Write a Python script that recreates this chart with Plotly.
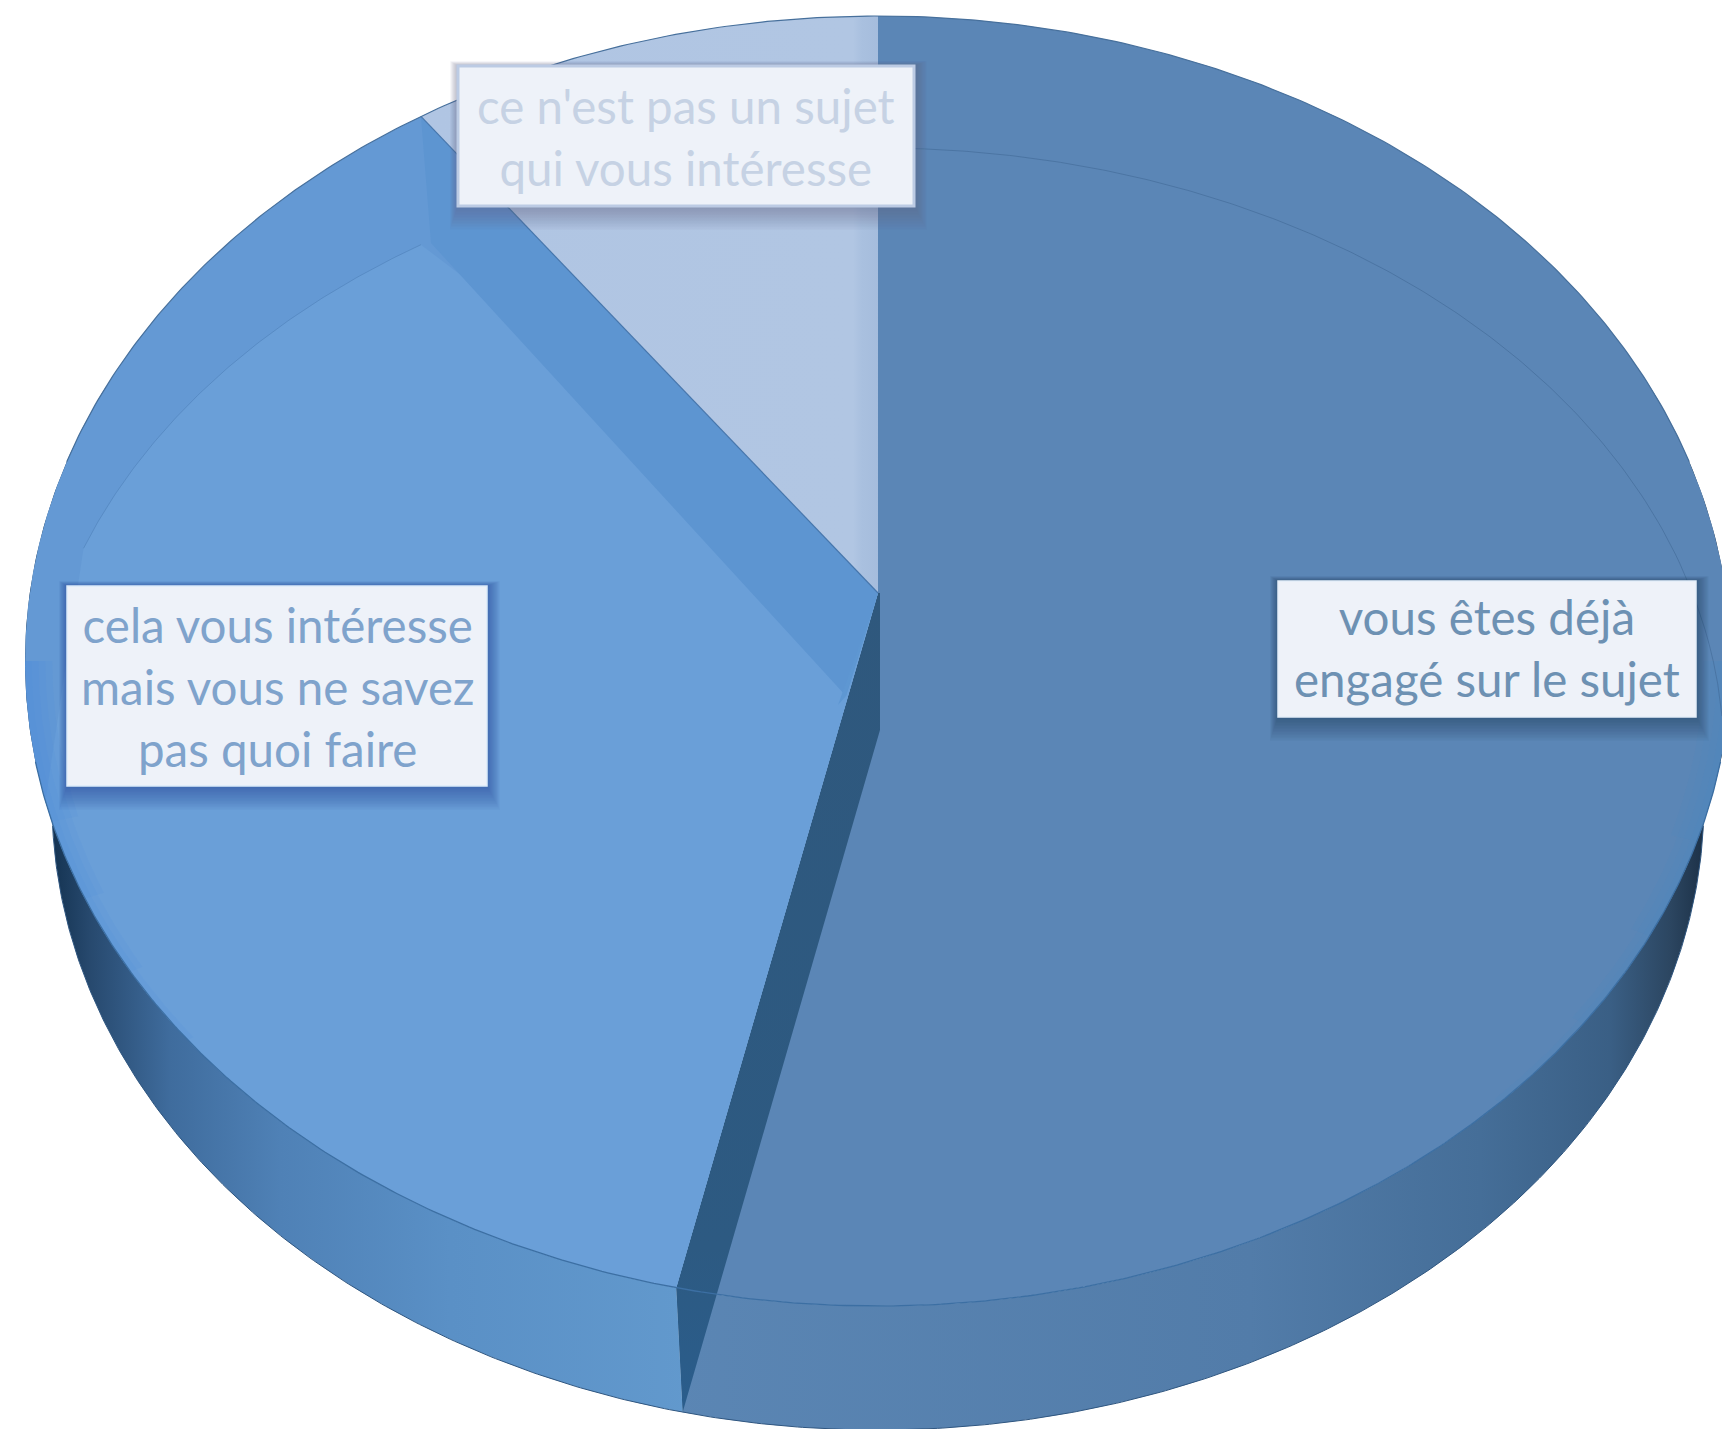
import numpy as np
import plotly.graph_objects as go

categories = ["vous êtes déjà engagé sur le sujet",
              "cela vous intéresse mais vous ne savez pas quoi faire",
              "ce n'est pas un sujet qui vous intéresse"]
values = [53.8, 37.2, 9.0]
label_text = ["vous êtes déjà<br>engagé sur le sujet",
              "cela vous intéresse<br>mais vous ne savez<br>pas quoi faire",
              "ce n'est pas un sujet<br>qui vous intéresse"]
face_colors = ["#5b86b6", "#6a9fd8", "#b0c5e3"]
label_colors = ["#6d91b3", "#7fa3cc", "#c6d2e4"]

# projection of the tilted disc on the page
CX, CY, A, B = 878.0, 661.0, 853.0, 645.0          # top rim
BCY, BA, BB = 802.0, 826.0, 628.0                  # bottom rim
AX, AY = 878.0, 593.0                              # apex on the top face
AY_LOW = 730.0                                     # apex at wall foot
ICY, IA, IB = 758.0, 846.0, 610.0                  # bevel arc

frac = np.cumsum([0] + values) / sum(values)
ang = frac * 2 * np.pi


def rim(t, k=1.0):
    return CX + k * A * np.sin(t), CY - k * B * np.cos(t)


def foot(t):
    return CX + BA * np.sin(t), BCY - BB * np.cos(t)


def inner_y(x):
    u = np.clip((x - CX) / IA, -1, 1)
    return ICY - IB * np.sqrt(1 - u ** 2)


fig = go.Figure()


def poly(x, y, color=None, **kw):
    fig.add_trace(go.Scatter(x=list(x), y=list(y), mode="lines", fill="toself",
                             line=dict(width=0), fillcolor=color,
                             hoverinfo="skip", showlegend=False, **kw))


def line(x, y, color, width=1.2):
    fig.add_trace(go.Scatter(x=list(x), y=list(y), mode="lines",
                             line=dict(color=color, width=width),
                             hoverinfo="skip", showlegend=False))


def grad(start, stop, stops):
    return dict(type="horizontal", start=start, stop=stop,
                colorscale=[[(x - start) / (stop - start), c] for x, c in stops])


def ring(t0, t1, k, color):
    t = np.linspace(t0, t1, 120)
    ox, oy = rim(t)
    ix_, iy_ = rim(t, k)
    poly(np.r_[ox, ix_[::-1]], np.r_[oy, iy_[::-1]], color)


# walls
t = np.linspace(np.pi * 0.35, ang[1], 200)
rx, ry = rim(t)
fx, fy = foot(t)
poly(np.r_[rx, fx[::-1]], np.r_[ry, fy[::-1]],
     fillgradient=grad(660, 1722, [(660, "#5b86b4"), (1250, "#527ca9"), (1480, "#456e98"),
                                   (1610, "#3a5f85"), (1670, "#2c4661"), (1722, "#14263a")]))
t = np.linspace(ang[1], 2 * np.pi * 0.82, 200)
rx, ry = rim(t)
fx, fy = foot(t)
poly(np.r_[rx, fx[::-1]], np.r_[ry, fy[::-1]],
     fillgradient=grad(30, 690, [(30, "#0a2742"), (90, "#27496e"), (170, "#3f6c9d"),
                                 (280, "#4f81b6"), (450, "#5a90c6"), (690, "#6299cd")]))

# slice 1 top face
t = np.linspace(ang[0], ang[1], 300)
rx, ry = rim(t)
poly(np.r_[AX, rx], np.r_[AY, ry], face_colors[0])
for end, k in zip((0.74, 0.69, 0.64, 0.59), (0.992, 0.984, 0.976, 0.968)):
    ring(np.pi * 0.5, np.pi * end, k, "rgba(70,135,205,0.08)")

# dark cut wall
rx1, ry1 = rim(ang[1])
fx1, fy1 = foot(ang[1])
poly([AX, rx1, fx1, AX + 2, AX + 2], [AY, ry1, fy1, AY_LOW, AY],
     fillgradient=dict(type="vertical", start=AY, stop=fy1,
                       colorscale=[[0, "#2f587d"], [0.8, "#2d5a82"], [1, "#2a5d8c"]]))

# slice 2 top face: rim band, then the flat face inside the bevel arc
t = np.linspace(ang[1], ang[2], 400)
rx, ry = rim(t)
poly(np.r_[AX, rx], np.r_[AY, ry], "#6499d4")
low = (t < np.pi * 1.431)
up = (t > np.pi * 1.5) & (rx >= 82)
fxs = np.r_[AX, rx[low], rx[up]]
fys = np.r_[AY, ry[low], inner_y(rx[up])]
poly(fxs, fys, face_colors[1])
for start, k in zip((1.30, 1.34, 1.38, 1.42), (0.992, 0.984, 0.976, 0.968)):
    ring(np.pi * start, np.pi * 1.5, k, "rgba(70,140,225,0.12)")
rx3, ry3 = rim(ang[2])
poly([AX, rx3, 431, 846], [AY, ry3, 243, 696], "#5d95d1")
poly([AX, 846, 838, AX], [AY, 696, 705, AY], "#5e97d2")
mask = up & (rx < 431)
line(rx[mask], inner_y(rx[mask]), "rgba(70,120,175,0.45)", 1)

# slice 3 top face
t = np.linspace(ang[2], ang[3], 120)
rx, ry = rim(t)
poly(np.r_[AX, rx], np.r_[AY, ry],
     fillgradient=grad(420, 880, [(420, "#b0c5e3"), (853, "#b1c6e3"), (862, "#a9c0df"), (880, "#a5bcdc")]))

# seam and bevel lines
line([AX, rx3], [AY, ry3], "#4676ac", 1.2)
ix = np.linspace(AX, 1722, 200)
line(ix, inner_y(ix), "rgba(65,105,150,0.6)", 1)
t = np.linspace(np.pi * 0.55, np.pi * 1.45, 400)
rx, ry = rim(t)
line(rx, ry, "#3c6fa3", 1.3)
t = np.linspace(np.pi * 1.6, np.pi * 2.4, 300)
rx, ry = rim(t)
line(rx, ry, "#47709c", 1.2)
t = np.linspace(np.pi * 0.4, np.pi * 1.6, 600)
fx, fy = foot(t)
outside = ((fx - CX) / A) ** 2 + ((fy - CY) / B) ** 2 >= 1
fx = np.where(outside, fx, np.nan)
fy = np.where(outside, fy, np.nan)
line(fx, fy, "#2f5680", 1)

# label boxes (x0, y0, x1, y1)
boxes = [(1278, 581, 1696, 717), (67, 586, 487, 786), (458, 66, 914, 206)]
text_dy = [-2, 0, 0]
shadow = ["rgba(30,55,90,0.035)", "rgba(25,70,130,0.035)", "rgba(80,100,140,0.03)"]
border = ["#e3eef9", "#dcebfa", "#bccbe4"]
shapes = []
annotations = []
for (x0, y0, x1, y1), dy, sc, bc, txt, col in zip(boxes, text_dy, shadow, border, label_text, label_colors):
    for i in range(1, 17):
        shapes.append(dict(type="rect", layer="above", x0=x0 - i * 0.5, x1=x1 + i * 0.8,
                           y0=y0 - i * 0.3, y1=y1 + i * 1.5,
                           line=dict(width=0), fillcolor=sc))
    shapes.append(dict(type="rect", layer="above", x0=x0, x1=x1, y0=y0, y1=y1,
                       line=dict(color=bc, width=3 if bc == "#bccbe4" else 1.5),
                       fillcolor="#eef2f9"))
    annotations.append(dict(x=(x0 + x1) / 2, y=(y0 + y1) / 2 + dy, xref="x", yref="y",
                            text=txt, showarrow=False, align="center",
                            font=dict(family="Lato", size=47.5, color=col)))

fig.update_layout(
    width=1722, height=1429,
    margin=dict(l=0, r=0, t=0, b=0),
    paper_bgcolor="white", plot_bgcolor="white",
    xaxis=dict(range=[0, 1722], visible=False, fixedrange=True),
    yaxis=dict(range=[1429, 0], visible=False, fixedrange=True),
    shapes=shapes, annotations=annotations, showlegend=False,
)
fig.write_html("out.html", config=dict(displayModeBar=False),
               post_script="document.body.style.margin='0';document.body.style.overflow='hidden';")
